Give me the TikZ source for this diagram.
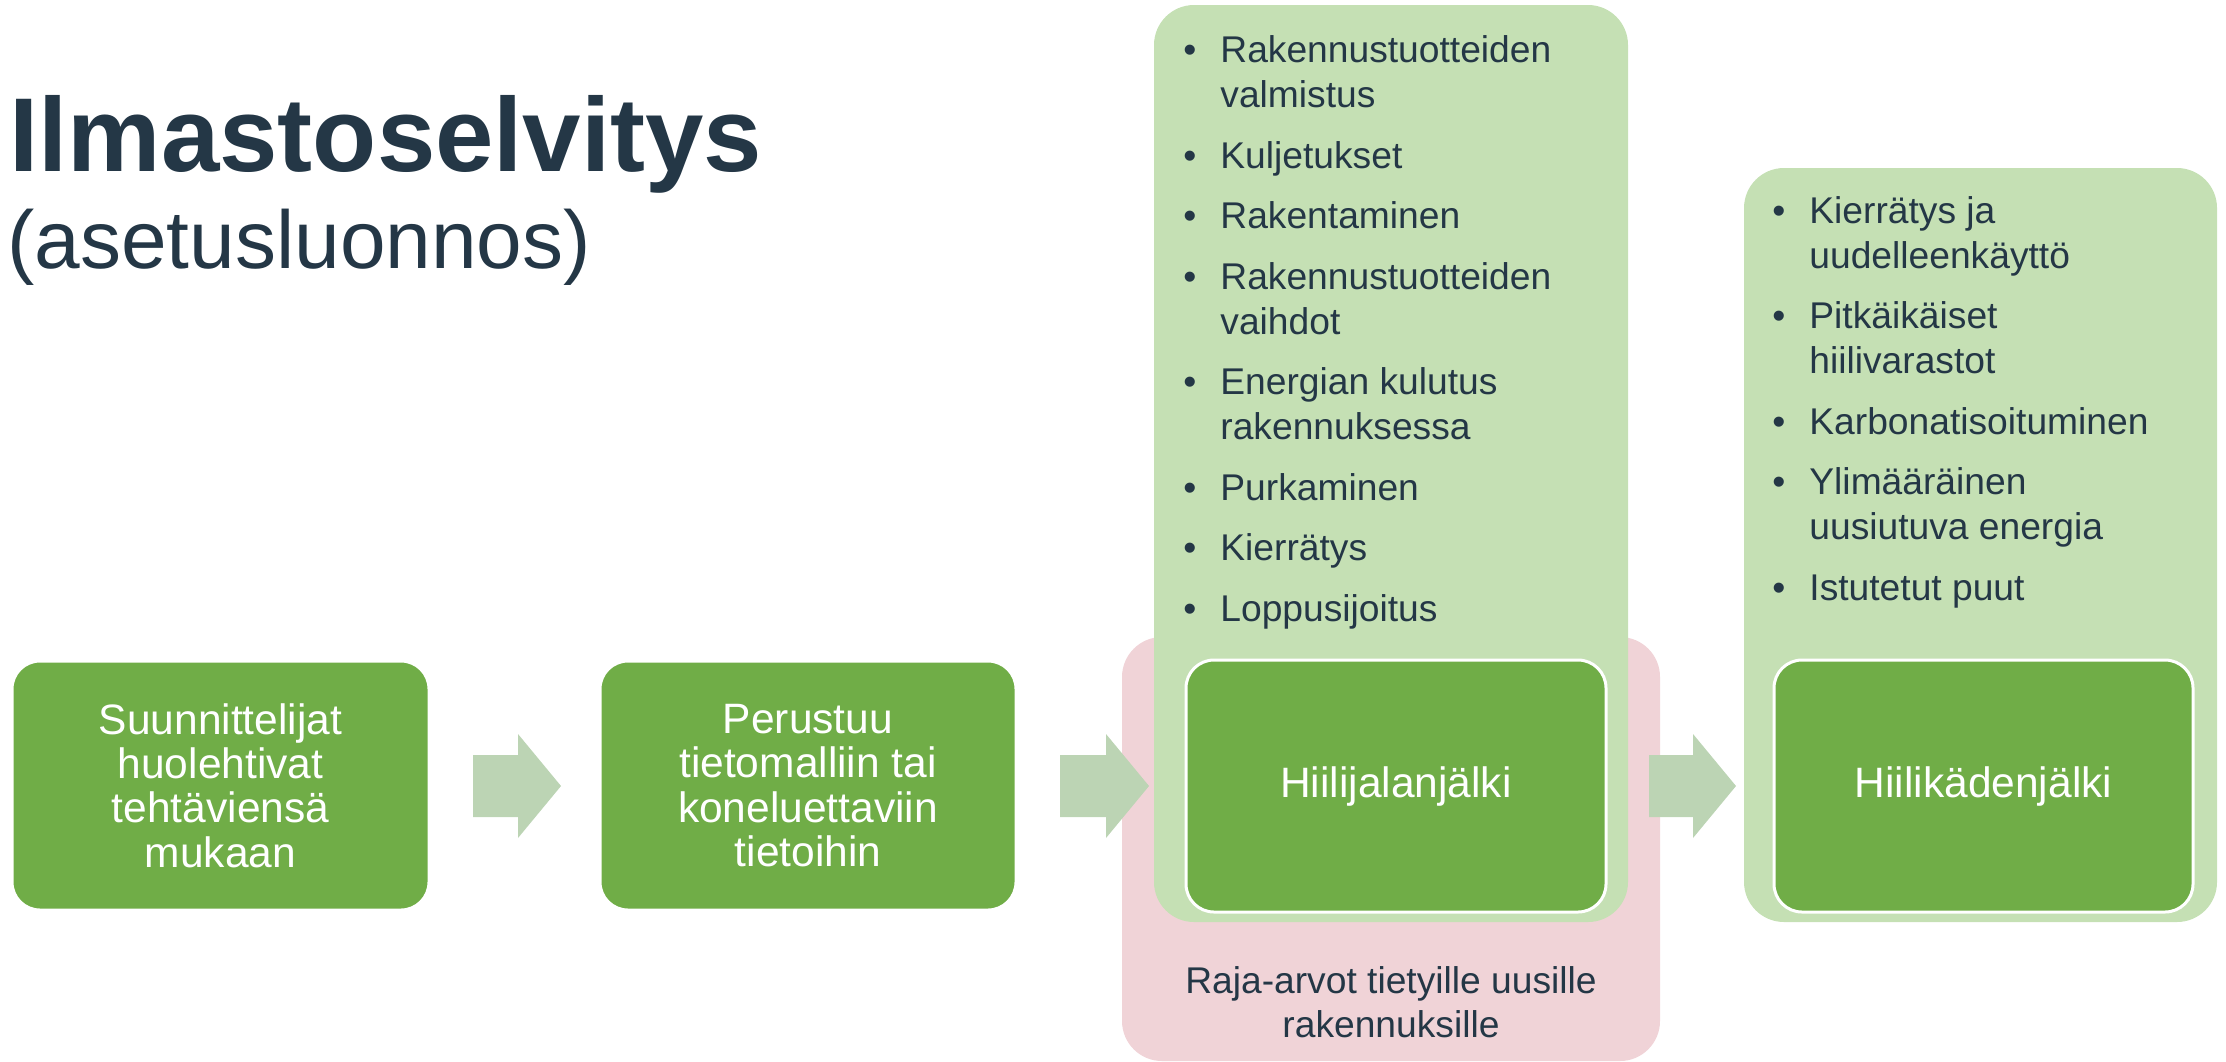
\documentclass[tikz,border=0pt]{standalone}
\usepackage{fontspec}
\setmainfont{Liberation Sans}
\definecolor{navy}{HTML}{243746}
\definecolor{dgreen}{HTML}{70AD47}
\definecolor{lgreen}{HTML}{C5E0B4}
\definecolor{agreen}{HTML}{BCD4B4}
\definecolor{pinkbg}{HTML}{F0D3D7}
\begin{document}
\begin{tikzpicture}[x=0.5pt,y=-0.5pt,
  stepbox/.style={rectangle, rounded corners=14pt, fill=dgreen, draw=white, line width=1.5pt,
    text=white, align=center, inner sep=0pt, font=\fontsize{21.25}{22.2}\selectfont},
  panel/.style={rectangle, rounded corners=20pt, inner sep=0pt},
  item/.style={anchor=base west, inner sep=0pt, text=navy, font=\fontsize{18.6}{22.5}\selectfont},
  bul/.style={anchor=base west, inner sep=0pt, text=navy, font=\fontsize{18.6}{22.5}\selectfont},
  barrow/.style={fill=agreen}
]
\useasboundingbox (0,0) rectangle (2226,1061);
% title
\node[anchor=base west, inner sep=0pt, text=navy, font=\fontsize{52.5}{60}\selectfont\bfseries] (title) at (9,171) {Ilmastoselvitys};
\node[anchor=base west, inner sep=0pt, text=navy, font=\fontsize{41}{48}\selectfont] (subtitle) at (7,268) {(asetusluonnos)};
% panels
\node[panel, fill=pinkbg, minimum width=269pt, minimum height=212pt] (pink) at (1391,849) {};
\node[panel, fill=lgreen, minimum width=237pt, minimum height=458.5pt] (panelA) at (1391,463.5) {};
\node[panel, fill=lgreen, minimum width=236.5pt, minimum height=377pt] (panelB) at (1980.5,545) {};
% step boxes
\node[stepbox, minimum width=208.5pt, minimum height=124.5pt] (b1) at (220.5,785.5) {Suunnittelijat\\huolehtivat\\tehtäviensä\\mukaan};
\node[stepbox, minimum width=208pt, minimum height=124.5pt] (b2) at (808,785.5) {Perustuu\\tietomalliin tai\\koneluettaviin\\tietoihin};
\node[stepbox, minimum width=210pt, minimum height=126pt] (b3) at (1396,786) {Hiilijalanjälki};
\node[stepbox, minimum width=209.5pt, minimum height=126pt] (b4) at (1983.5,786) {Hiilikädenjälki};
% block arrows
\fill[barrow] (473,755) -- (518,755) -- (518,734) -- (561,786) -- (518,838) -- (518,817) -- (473,817) -- cycle;
\fill[barrow] (1060,755) -- (1106,755) -- (1106,734) -- (1149,786) -- (1106,838) -- (1106,817) -- (1060,817) -- cycle;
\fill[barrow] (1649,755) -- (1693,755) -- (1693,734) -- (1736,786) -- (1693,838) -- (1693,817) -- (1649,817) -- cycle;
% left list
\foreach \y/\t [count=\i] in {62.5/Rakennustuotteiden, 107.5/valmistus, 168/Kuljetukset, 228.5/Rakentaminen,
  289/Rakennustuotteiden, 334/vaihdot, 394.5/Energian kulutus, 439.5/rakennuksessa, 500/Purkaminen,
  560.5/Kierrätys, 621/Loppusijoitus}
  \node[item] (L\i) at (1220,\y) {\t};
\foreach \y [count=\i] in {62.5,168,228.5,289,394.5,500,560.5,621}
  \node[bul] (LB\i) at (1183,\y) {•};
% right list
\foreach \y/\t [count=\i] in {223/Kierrätys ja, 268/uudelleenkäyttö, 328.5/Pitkäikäiset, 373.5/hiilivarastot,
  434/Karbonatisoituminen, 494.5/Ylimääräinen, 539.5/uusiutuva energia, 600/Istutetut puut}
  \node[item] (R\i) at (1809,\y) {\t};
\foreach \y [count=\i] in {223,328.5,434,494.5,600}
  \node[bul] (RB\i) at (1772,\y) {•};
% pink text
\node[anchor=base, inner sep=0pt, text=navy, font=\fontsize{18.6}{22.5}\selectfont] (p1) at (1391,993) {Raja-arvot tietyille uusille};
\node[anchor=base, inner sep=0pt, text=navy, font=\fontsize{18.6}{22.5}\selectfont] (p2) at (1391,1037) {rakennuksille};
\end{tikzpicture}
\end{document}
